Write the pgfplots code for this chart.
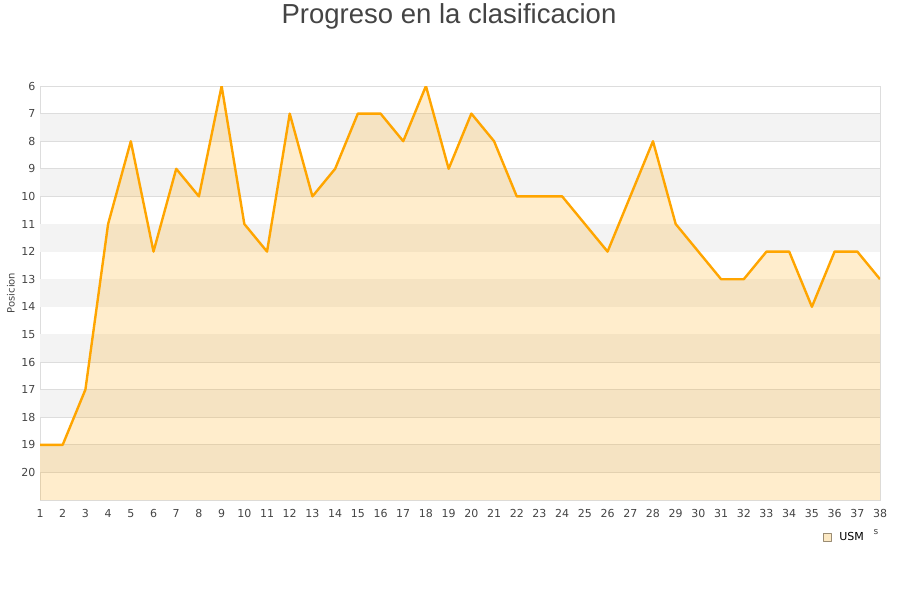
\documentclass[border=0pt]{standalone}
\usepackage{pgfplots}
\pgfplotsset{compat=1.18}
\usepackage{fontspec}
\setmainfont{DejaVu Sans}
\newfontfamily\titlefont{Liberation Sans}

\definecolor{lineorange}{HTML}{FFA500}
\definecolor{band}{HTML}{F3F3F3}
\definecolor{gridc}{HTML}{DDDDDD}
\definecolor{txt}{HTML}{444444}
\definecolor{markborder}{HTML}{9A8C74}
\definecolor{markfill}{HTML}{FCE9C4}

\begin{document}
\begin{tikzpicture}
\path[use as bounding box] (0pt,0pt) rectangle (900pt,600pt);
\node[font=\titlefont\fontsize{27.5}{32}\selectfont, text=txt] at (449pt,584pt) {Progreso en la clasificacion};
\node[font=\fontsize{10}{12}\selectfont, text=txt, rotate=90] at (11pt,307pt) {Posicion};
\node[font=\fontsize{9}{11}\selectfont, text=txt] at (876pt,68pt) {s};
\begin{axis}[
    at={(460pt,307pt)}, anchor=center,
    scale only axis,
    width=840pt, height=414pt,
    xmin=1, xmax=38,
    ymin=6, ymax=21,
    y dir=reverse,
    xtick={1,...,38},
    ytick={6,...,20},
    tick style={draw=none},
    axis line style={draw=gridc},
    ymajorgrids,
    grid style={draw=gridc, line width=0.8pt},
    /pgf/number format/assume math mode=true,
    ticklabel style={font=\fontsize{11}{13}\selectfont, text=txt},
    xticklabel style={yshift=-6pt},
    yticklabel style={xshift=-1pt},
    clip=true,
    legend style={at={(rel axis cs:1,0)}, anchor=north east, xshift=-11pt, yshift=-28pt,
        draw=none, fill=none, font=\fontsize{11}{13}\selectfont, text=black},
    legend image code/.code={\draw[draw=markborder, fill=markfill, line width=0.7pt, solid] (0pt,-4pt) rectangle (8pt,4pt);
      \path[draw=none] (0pt,0pt) -- (14pt,0pt);},
]
\foreach \b in {7,9,...,19} {
  \edef\tmp{\noexpand\fill[band] (axis cs:1,\b) rectangle (axis cs:38,\b+1);}
  \tmp
}
\addplot[draw=none, fill=lineorange, fill opacity=0.2, forget plot] coordinates {
(1,21) (1,19) (2,19) (3,17) (4,11) (5,8) (6,12) (7,9) (8,10) (9,6) (10,11)
(11,12) (12,7) (13,10) (14,9) (15,7) (16,7) (17,8) (18,6) (19,9) (20,7)
(21,8) (22,10) (23,10) (24,10) (25,11) (26,12) (27,10) (28,8) (29,11) (30,12)
(31,13) (32,13) (33,12) (34,12) (35,14) (36,12) (37,12) (38,13) (38,21)
} -- cycle;
\addplot[draw=lineorange, line width=2.4pt, line join=round, mark=none] coordinates {
(1,19) (2,19) (3,17) (4,11) (5,8) (6,12) (7,9) (8,10) (9,6) (10,11)
(11,12) (12,7) (13,10) (14,9) (15,7) (16,7) (17,8) (18,6) (19,9) (20,7)
(21,8) (22,10) (23,10) (24,10) (25,11) (26,12) (27,10) (28,8) (29,11) (30,12)
(31,13) (32,13) (33,12) (34,12) (35,14) (36,12) (37,12) (38,13)
};
\addlegendentry{USM}
\end{axis}
\end{tikzpicture}
\end{document}
